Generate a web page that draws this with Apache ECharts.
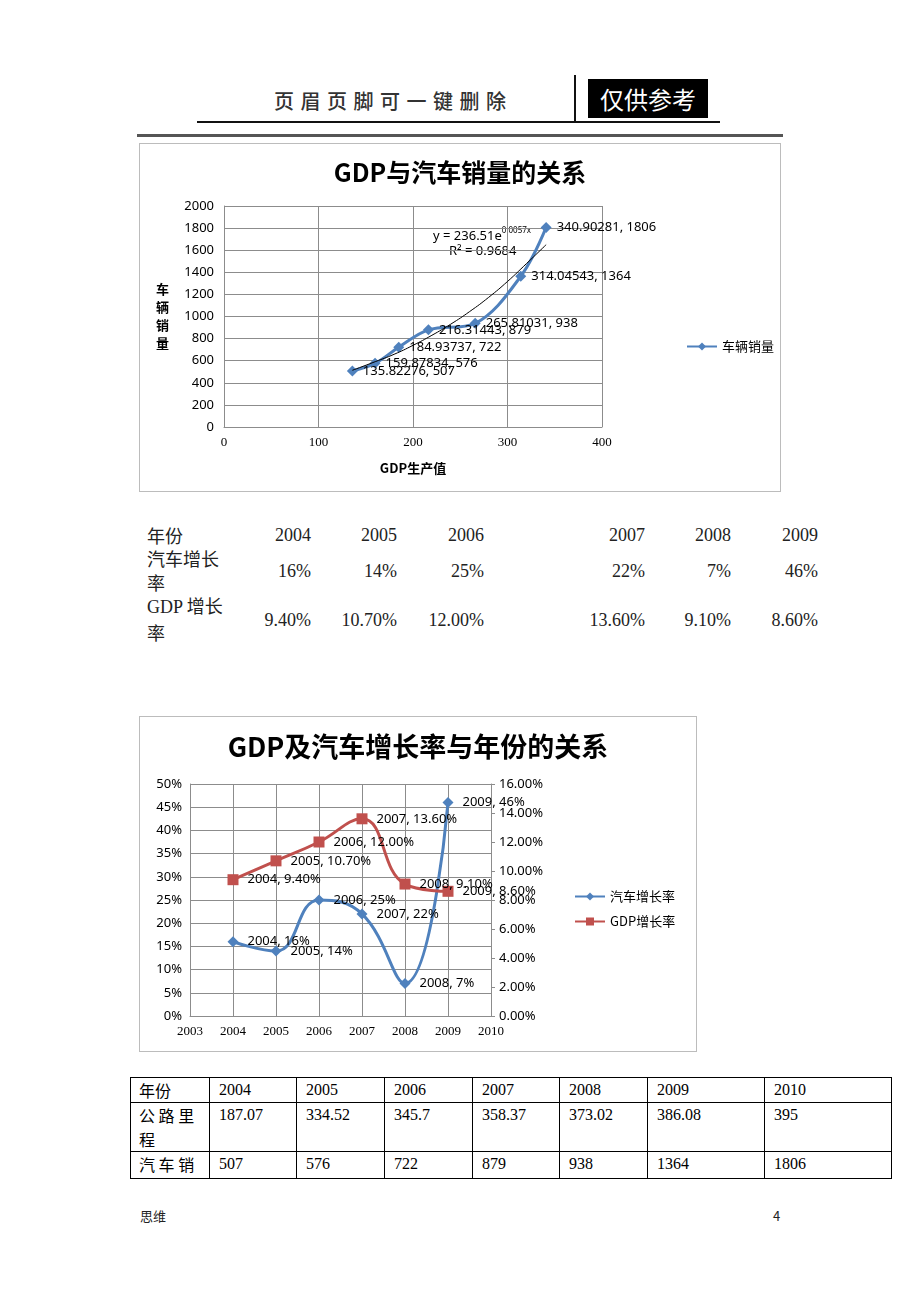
<!DOCTYPE html>
<html><head><meta charset="utf-8">
<script src="https://cdn.jsdelivr.net/npm/echarts@6/dist/echarts.min.js"></script>
<style>
body{margin:0;background:#fff;width:920px;height:1302px;position:relative;overflow:hidden;font-family:"Noto Sans CJK SC",sans-serif;}
.abs{position:absolute;white-space:nowrap;}
.ser{font-family:"Liberation Serif","Noto Sans CJK SC",serif;}
#c1{position:absolute;left:139px;top:143px;width:642px;height:349px;}
#c2{position:absolute;left:139px;top:716px;width:558px;height:336px;}
.box{position:absolute;border:1px solid #bcbcbc;box-sizing:border-box;}
table.t{position:absolute;left:130px;top:1077px;border-collapse:collapse;font-size:16px;}
table.t td{border:1px solid #000;padding:0 0 0 9px;vertical-align:top;line-height:24px;height:24px;}
</style></head><body>
<!-- header -->
<div class="abs" style="left:274px;top:86px;font-size:20px;letter-spacing:6.5px;color:#333;font-weight:500;">页眉页脚可一键删除</div>
<div class="abs" style="left:574px;top:75px;width:2px;height:48px;background:#111;"></div>
<div class="abs" style="left:588px;top:79px;width:120px;height:39px;background:#000;color:#fff;font-size:24px;line-height:39px;text-align:center;">仅供参考</div>
<div class="abs" style="left:197px;top:121px;width:523px;height:2px;background:#111;"></div>
<div class="abs" style="left:137px;top:134px;width:646px;height:3px;background:#555;"></div>

<div class="box" style="left:139px;top:143px;width:642px;height:349px;"></div>
<div id="c1"></div>

<!-- middle text -->
<div id="mid"></div>

<div class="box" style="left:139px;top:716px;width:558px;height:336px;"></div>
<div id="c2"></div>

<table class="t ser" id="tbl"></table>

<div class="abs" style="left:140px;top:1206px;font-size:13px;color:#222;">思维</div>
<div class="abs" style="left:773px;top:1206px;font-size:13px;color:#222;">4</div>

<script>
// ---------- data ----------
const gdpValues = [135.82276, 159.87834, 184.93737, 216.31443, 265.81031, 314.04543, 340.90281];
const salesValues = [507, 576, 722, 879, 938, 1364, 1806];
// trend line points
const trendX = [135.8, 160, 180, 200, 220, 240, 260, 280, 300, 320, 340.9];
const trendY = [513, 591, 658, 739, 830, 931, 1045, 1173, 1317, 1478, 1650];
const trendEq = 'y = 236.51e';
const trendExp = '0.0057x';
const trendR2 = 'R² = 0.9684';

const rateYears = [2004, 2005, 2006, 2007, 2008, 2009];
const carRate = [16, 14, 25, 22, 7, 46];
const gdpRate = [9.40, 10.70, 12.00, 13.60, 9.10, 8.60];

const tblYears = ['2004', '2005', '2006', '2007', '2008', '2009', '2010'];
const roadMileage = ['187.07', '334.52', '345.7', '358.37', '373.02', '386.08', '395'];
const carSales = ['507', '576', '722', '879', '938', '1364', '1806'];

// ---------- middle text block ----------
(function(){
  const mid = document.getElementById('mid');
  const xs = [311, 397, 484, 645, 731, 818];
  function add(html, l, t, r, cls){
    const d = document.createElement('div');
    d.className = 'abs ' + (cls || '');
    d.style.fontSize = '18px';
    d.style.lineHeight = '24px';
    d.style.color = '#222';
    if (r) { d.style.right = (920 - l) + 'px'; } else { d.style.left = l + 'px'; }
    d.style.top = (t - 12) + 'px';
    d.innerHTML = html;
    mid.appendChild(d);
  }
  add('年份', 147, 535);
  add('汽车增长', 147, 558);
  add('率', 147, 582);
  add('GDP 增长', 147, 607, false, 'ser');
  add('率', 147, 632);
  rateYears.forEach((y, i) => {
    add(String(y), xs[i], 535, true, 'ser');
    add(carRate[i] + '%', xs[i], 571, true, 'ser');
    add(gdpRate[i].toFixed(2) + '%', xs[i], 620, true, 'ser');
  });
})();

// ---------- bottom table ----------
(function(){
  const widths = [80, 87, 88, 88, 87, 88, 117, 127];
  const rows = [['年份'].concat(tblYears), ['公 路 里<br>程'].concat(roadMileage), ['汽 车 销'].concat(carSales)];
  const tbl = document.getElementById('tbl');
  rows.forEach((r, ri) => {
    const tr = document.createElement('tr');
    r.forEach((c, ci) => {
      const td = document.createElement('td');
      td.style.width = (widths[ci] - 10) + 'px';
      td.style.height = ri === 1 ? '47px' : (ri === 0 ? '24px' : '26px');
      if (ci === 0) { td.style.fontFamily = '"Noto Sans CJK SC"'; td.style.paddingLeft = '8px'; }
      td.innerHTML = c;
      tr.appendChild(td);
    });
    tbl.appendChild(tr);
  });
})();

// ---------- chart 1 ----------
const blue = '#4F81BD', red = '#C0504D', gridC = '#8c8c8c';
const c1 = echarts.init(document.getElementById('c1'));
c1.setOption({
  animation: false,
  title: { text: 'GDP与汽车销量的关系', left: 'center', top: 12, textStyle: { fontSize: 25, fontWeight: 'bold', color: '#000', fontFamily: 'Noto Sans CJK SC' } },
  grid: { left: 85, top: 63, width: 378, height: 221 },
  legend: { data: ['车辆销量'], left: 542, top: 192, itemWidth: 30, itemHeight: 10, textStyle: { fontSize: 13, color: '#000', fontFamily: 'Noto Sans CJK SC' } },
  xAxis: { type: 'value', min: 0, max: 400, interval: 100,
    name: 'GDP生产值', nameLocation: 'middle', nameGap: 35,
    nameTextStyle: { fontSize: 13, fontWeight: 'bold', color: '#000', fontFamily: 'Noto Sans CJK SC' },
    axisLine: { lineStyle: { color: gridC } }, axisTick: { show: false },
    axisLabel: { color: '#000', fontSize: 13, fontFamily: 'Liberation Serif', margin: 9, formatter: v => String(v) },
    splitLine: { lineStyle: { color: gridC } } },
  yAxis: { type: 'value', min: 0, max: 2000, interval: 200,
    name: '车\n辆\n销\n量', nameLocation: 'middle', nameGap: 55, nameRotate: 0,
    nameTextStyle: { fontSize: 13, fontWeight: 'bold', color: '#000', lineHeight: 18, fontFamily: 'Noto Sans CJK SC' },
    axisLine: { show: true, lineStyle: { color: gridC } }, axisTick: { show: false },
    axisLabel: { color: '#000', fontSize: 13, fontFamily: 'Noto Sans', margin: 10, formatter: v => String(v) },
    splitLine: { lineStyle: { color: gridC } } },
  graphic: [
    { type: 'text', left: 294, top: 84, style: { text: '{a|' + trendEq + '}{s|' + trendExp + '}', rich: { a: { fontSize: 13, fill: '#000', fontFamily: 'Noto Sans' }, s: { fontSize: 8, fill: '#000', fontFamily: 'Noto Sans', padding: [0, 0, 10, 0] } } } },
    { type: 'text', left: 310, top: 102, style: { text: trendR2, fontSize: 13, fill: '#000', fontFamily: 'Noto Sans' } }
  ],
  series: [
    { name: '车辆销量', type: 'line', smooth: 0.35, data: gdpValues.map((g, i) => [g, salesValues[i]]),
      symbol: 'diamond', symbolSize: 11, lineStyle: { color: blue, width: 3 }, itemStyle: { color: blue },
      label: { show: true, position: 'right', distance: 5, fontSize: 13, color: '#000', fontFamily: 'Noto Sans',
        formatter: p => p.value[0] + ', ' + p.value[1] }, z: 3 },
    { name: 'trend', type: 'line', smooth: true, data: trendX.map((x, i) => [x, trendY[i]]),
      symbol: 'none', lineStyle: { color: '#000', width: 1 }, z: 4, silent: true }
  ]
});

// ---------- chart 2 ----------
const c2 = echarts.init(document.getElementById('c2'));
c2.setOption({
  animation: false,
  title: { text: 'GDP及汽车增长率与年份的关系', left: 'center', top: 12, textStyle: { fontSize: 27, fontWeight: 'bold', color: '#000', fontFamily: 'Noto Sans CJK SC' } },
  grid: { left: 51, top: 68, width: 301, height: 232 },
  legend: { data: ['汽车增长率', 'GDP增长率'], orient: 'vertical', left: 430, top: 169, itemGap: 12, itemWidth: 30, itemHeight: 10,
    textStyle: { fontSize: 13, color: '#000', fontFamily: 'Noto Sans CJK SC' } },
  xAxis: { type: 'value', min: 2003, max: 2010, interval: 1,
    axisLine: { lineStyle: { color: gridC } }, axisTick: { show: false },
    axisLabel: { color: '#000', fontSize: 13, fontFamily: 'Liberation Serif', margin: 9, formatter: v => String(v) },
    splitLine: { lineStyle: { color: gridC } } },
  yAxis: [
    { type: 'value', min: 0, max: 50, interval: 5,
      axisLine: { show: true, lineStyle: { color: gridC } }, axisTick: { show: false },
      axisLabel: { color: '#000', fontSize: 13, fontFamily: 'Noto Sans', margin: 8, formatter: v => v + '%' },
      splitLine: { lineStyle: { color: gridC } } },
    { type: 'value', min: 0, max: 16, interval: 2, position: 'right',
      axisLine: { show: true, lineStyle: { color: gridC } }, axisTick: { show: true, inside: false, length: 4, lineStyle: { color: gridC } },
      axisLabel: { color: '#000', fontSize: 13, fontFamily: 'Noto Sans', margin: 8, formatter: v => v.toFixed(2) + '%' },
      splitLine: { show: false } }
  ],
  series: [
    { name: '汽车增长率', type: 'line', smooth: 0.45, yAxisIndex: 0, data: rateYears.map((y, i) => [y, carRate[i]]),
      symbol: 'diamond', symbolSize: 11, lineStyle: { color: blue, width: 3 }, itemStyle: { color: blue },
      label: { show: true, position: 'right', distance: 9, fontSize: 13, color: '#000', fontFamily: 'Noto Sans',
        formatter: p => p.value[0] + ', ' + p.value[1] + '%' } },
    { name: 'GDP增长率', type: 'line', smooth: 0.45, yAxisIndex: 1, data: rateYears.map((y, i) => [y, gdpRate[i]]),
      symbol: 'rect', symbolSize: 11, lineStyle: { color: red, width: 3 }, itemStyle: { color: red },
      label: { show: true, position: 'right', distance: 9, fontSize: 13, color: '#000', fontFamily: 'Noto Sans',
        formatter: p => p.value[0] + ', ' + p.value[1].toFixed(2) + '%' } }
  ]
});
</script>
</body></html>
